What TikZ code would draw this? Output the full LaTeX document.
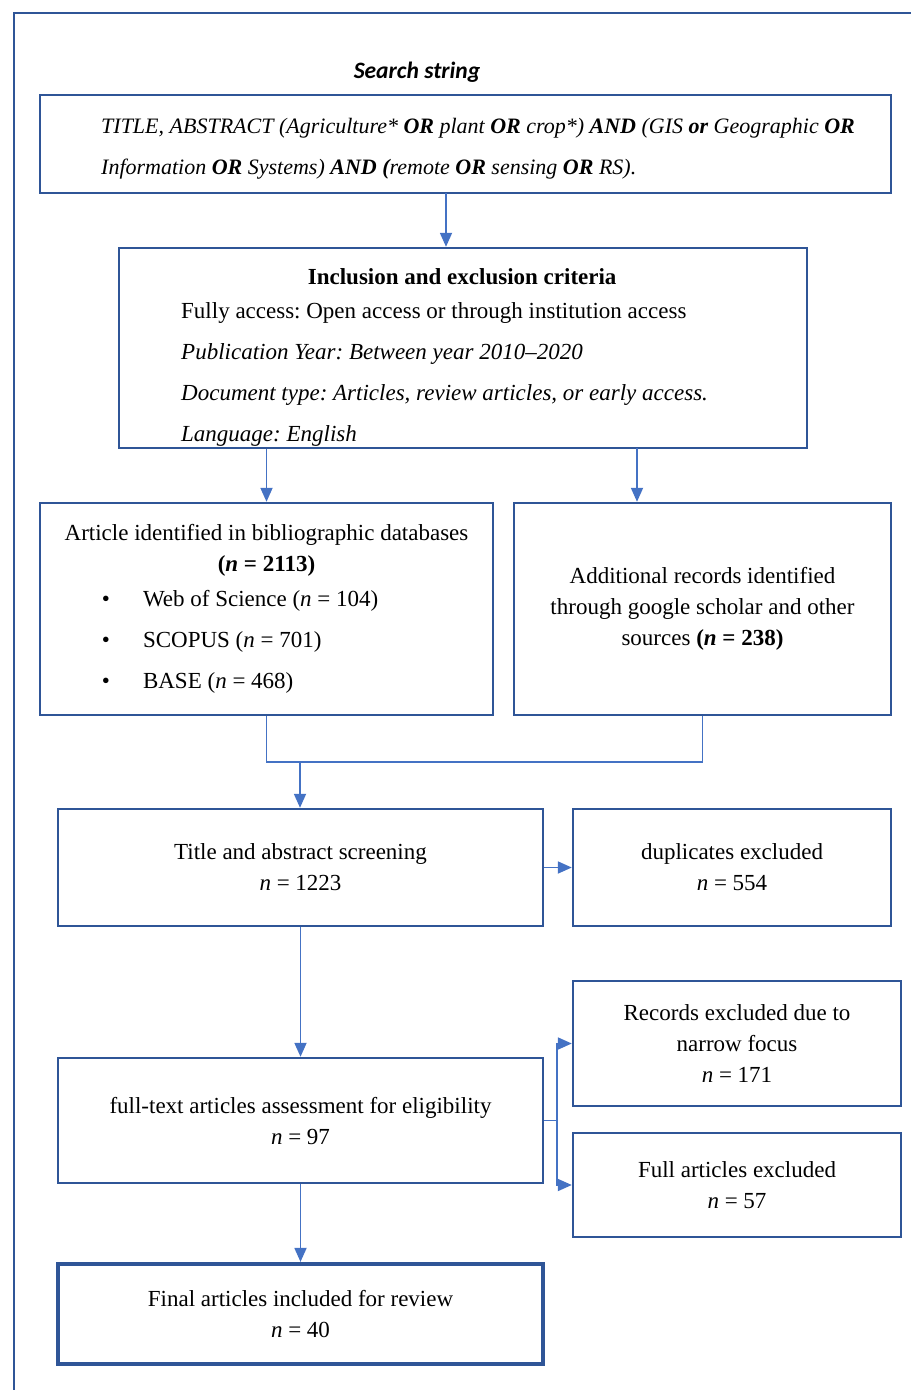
\documentclass[tikz,border=0pt]{standalone}
\usepackage{fontspec}
\setmainfont{Liberation Serif}
\newfontfamily\headfont{Carlito}
\usetikzlibrary{arrows.meta}
\definecolor{boxblue}{HTML}{2F5597}
\definecolor{linkblue}{HTML}{4472C4}
\begin{document}
\begin{tikzpicture}[x=1pt,y=-1pt,
    txt/.style={font=\fontsize{23}{31}\selectfont\frenchspacing},
    box/.style={draw=boxblue,line width=2.4pt,rectangle,inner sep=0pt,txt,align=center},
    link/.style={draw=linkblue,line width=1.8pt},
    arr/.style={link,-{Triangle[length=14pt,width=12pt]}}]
  \useasboundingbox (0,0) rectangle (911,1390);
  \draw[boxblue,line width=1.8pt] (14,1390) -- (14,13) -- (911,13);
  \node (title) at (417,72) {\headfont\fontsize{23.5}{28}\selectfont\bfseries\itshape Search string};
  \node[box,minimum width=851,minimum height=98] (search) at (465.5,144) {};
  \node[font=\fontsize{22}{31}\selectfont\frenchspacing\itshape,align=left,anchor=west,inner sep=0pt]
    (searchtext) at (101,149) {TITLE, ABSTRACT (Agriculture* \textbf{OR} plant \textbf{OR} crop*) \textbf{AND} (GIS \textbf{or} Geographic \textbf{OR}\\[10pt]
    Information \textbf{OR} Systems) \textbf{AND (}remote \textbf{OR} sensing \textbf{OR} RS).};
  \node[box,minimum width=688,minimum height=200] (crit) at (463,348) {};
  \node[txt,align=left,anchor=north west,inner sep=0pt]
    (critlist) at (181,268) {\makebox[562pt]{\bfseries Inclusion and exclusion criteria}\\[3pt]
    Fully access: Open access or through institution access\\[10pt]
    \itshape Publication Year: Between year 2010--2020\\[10pt]
    \itshape Document type: Articles, review articles, or early access.\\[10pt]
    \itshape Language: English};
  \node[box,minimum width=453,minimum height=212] (ident) at (266.5,609)
    {Article identified in bibliographic databases\\
    \textbf{(\textit{n} = 2113)}\\[4pt]
    \makebox[453pt][l]{\hspace{62pt}\textbullet\hspace{33pt}Web of Science (\textit{n} = 104)}\\[10pt]
    \makebox[453pt][l]{\hspace{62pt}\textbullet\hspace{33pt}SCOPUS (\textit{n} = 701)}\\[10pt]
    \makebox[453pt][l]{\hspace{62pt}\textbullet\hspace{33pt}BASE (\textit{n} = 468)}};
  \node[box,minimum width=377,minimum height=212] (addit) at (702.5,609)
    {Additional records identified\\through google scholar and other\\sources \textbf{(\textit{n} = 238)}};
  \node[box,minimum width=485,minimum height=117] (screen) at (300.5,867.5)
    {Title and abstract screening\\\textit{n} = 1223};
  \node[box,minimum width=318,minimum height=117] (dup) at (732,867.5)
    {duplicates excluded\\\textit{n} = 554};
  \node[box,minimum width=485,minimum height=125] (fulltext) at (300.5,1120.5)
    {full-text articles assessment for eligibility\\\textit{n} = 97};
  \node[box,minimum width=328,minimum height=125] (narrow) at (737,1043.5)
    {Records excluded due to\\narrow focus\\\textit{n} = 171};
  \node[box,minimum width=328,minimum height=104] (fullexcl) at (737,1185)
    {Full articles excluded\\\textit{n} = 57};
  \node[box,line width=4.2pt,minimum width=485,minimum height=100] (final) at (300.5,1314)
    {Final articles included for review\\\textit{n} = 40};
  \coordinate (searchout) at (446,193);
  \coordinate (critR) at (637,448);
  \coordinate (merge) at (300,762);
  \coordinate (fork) at (557,1120.5);
  \begin{scope}
    \draw[arr] (searchout) -- (searchout |- crit.north);
    \draw[arr] (ident.north |- crit.south) -- (ident.north);
    \draw[arr] (critR) -- (critR |- addit.north);
    \draw[link] (ident.south) |- (merge) -| (addit.south);
    \draw[arr] (merge) -- (merge |- screen.north);
    \draw[arr] (screen.east) -- (dup.west);
    \draw[arr] (screen.south) -- (fulltext.north);
    \draw[link] (fulltext.east) -- (fork);
    \draw[arr] (fork) |- (narrow.west);
    \draw[arr] (fork) |- (fullexcl.west);
    \draw[arr] (fulltext.south) -- (final.north);
  \end{scope}
\end{tikzpicture}
\end{document}
